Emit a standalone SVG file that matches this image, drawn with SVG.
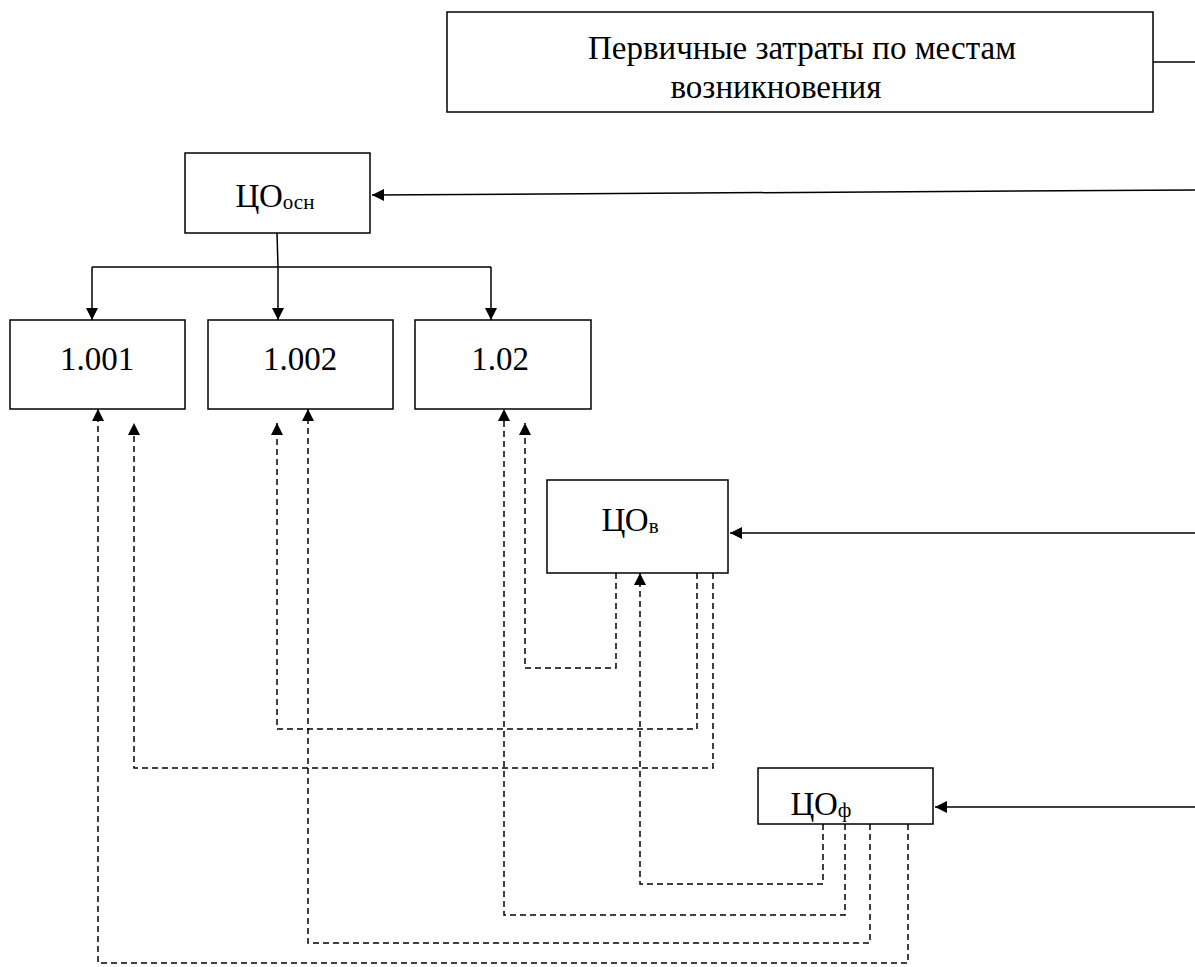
<svg xmlns="http://www.w3.org/2000/svg" width="1195" height="967" viewBox="0 0 1195 967">
<style>
.box{fill:#fff;stroke:#000;stroke-width:1.5}
.t{font-family:"Liberation Serif","Times New Roman",serif;fill:#000;text-anchor:middle;font-size:33px}
.sub{font-size:21px}
.s{fill:none;stroke:#000;stroke-width:1.5}
.d{fill:none;stroke:#000;stroke-width:1.5;stroke-dasharray:6 4}
</style>
<defs>
<marker id="ah" viewBox="0 0 10 10" refX="10" refY="5" markerWidth="15" markerHeight="12" markerUnits="userSpaceOnUse" orient="auto">
<path d="M0,0 L10,5 L0,10 z" fill="#000"/>
</marker>
</defs>
<rect width="1195" height="967" fill="#fff"/>
<g id="connectors">
<line class="s" x1="1153" y1="62" x2="1195" y2="62"/>
<line class="s" x1="1195" y1="190" x2="372" y2="195" marker-end="url(#ah)"/>
<line class="s" x1="1195" y1="533" x2="730" y2="533" marker-end="url(#ah)"/>
<line class="s" x1="1195" y1="807" x2="935" y2="807" marker-end="url(#ah)"/>
<polyline class="s" points="277,233 278,267"/>
<line class="s" x1="92" y1="267" x2="491" y2="267"/>
<line class="s" x1="92" y1="267" x2="92" y2="320" marker-end="url(#ah)"/>
<line class="s" x1="278" y1="267" x2="278" y2="320" marker-end="url(#ah)"/>
<line class="s" x1="491" y1="267" x2="491" y2="320" marker-end="url(#ah)"/>
<polyline class="d" points="908,824 908,963 98,963 98,409" marker-end="url(#ah)"/>
<polyline class="d" points="713,573 713,768 134,768 134,423" marker-end="url(#ah)"/>
<polyline class="d" points="697,573 697,729 277,729 277,423" marker-end="url(#ah)"/>
<polyline class="d" points="870,824 870,943 308,943 308,409" marker-end="url(#ah)"/>
<polyline class="d" points="845,824 845,915 504,915 504,409" marker-end="url(#ah)"/>
<polyline class="d" points="616,573 616,668 525,668 525,423" marker-end="url(#ah)"/>
<polyline class="d" points="823,824 823,884 640,884 640,573" marker-end="url(#ah)"/>
</g>
<g id="node-primary">
<rect class="box" x="447" y="12" width="706" height="100"/>
<text class="t" x="802" y="59">Первичные затраты по местам</text>
<text class="t" x="776" y="98">возникновения</text>
</g>
<g id="node-co-osn">
<rect class="box" x="185" y="153" width="185" height="80"/>
<text class="t" x="275" y="207">ЦО<tspan class="sub" dy="2">осн</tspan></text>
</g>
<g id="node-1001">
<rect class="box" x="10" y="320" width="175" height="89"/>
<text class="t" x="97" y="370">1.001</text>
</g>
<g id="node-1002">
<rect class="box" x="208" y="320" width="185" height="89"/>
<text class="t" x="300" y="370">1.002</text>
</g>
<g id="node-102">
<rect class="box" x="415" y="320" width="176" height="89"/>
<text class="t" x="500" y="370">1.02</text>
</g>
<g id="node-co-v">
<rect class="box" x="547" y="480" width="181" height="93"/>
<text class="t" x="630" y="531">ЦО<tspan class="sub" dy="2">в</tspan></text>
</g>
<g id="node-co-f">
<rect class="box" x="758" y="768" width="175" height="56"/>
<text class="t" x="821" y="815">ЦО<tspan class="sub" dy="2">ф</tspan></text>
</g>
</svg>
